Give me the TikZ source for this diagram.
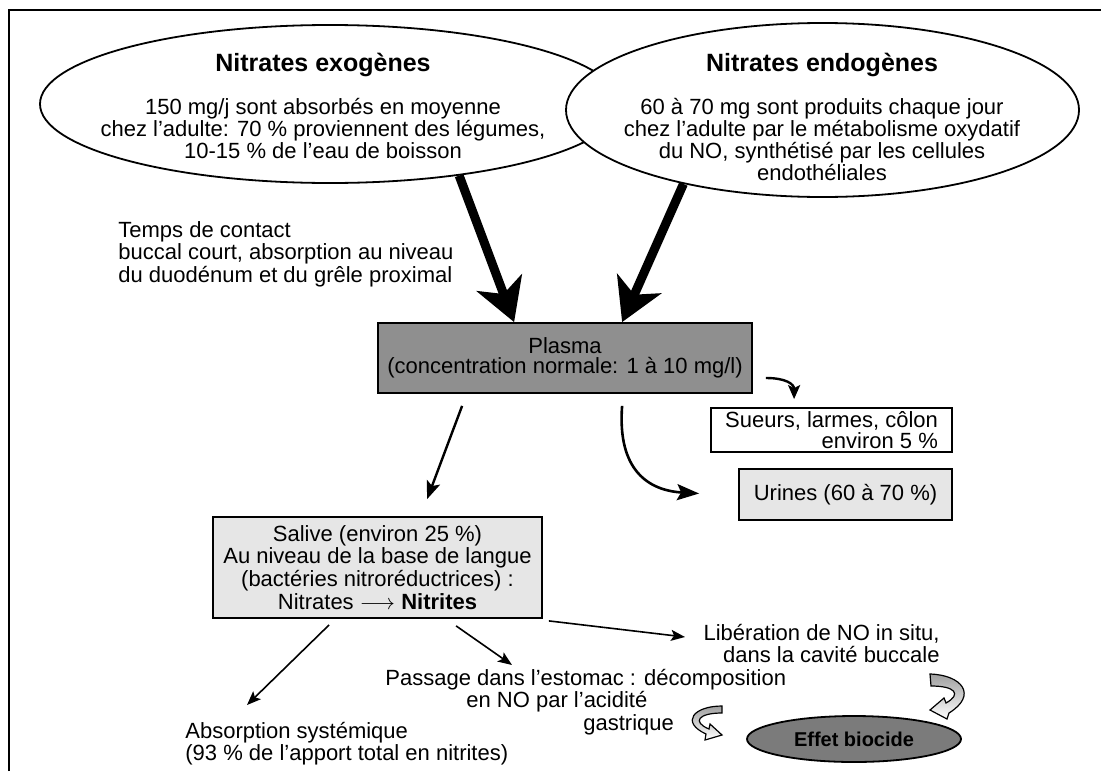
\documentclass[tikz,border=0pt]{standalone}
\usepackage{fontspec}
\setmainfont{Liberation Sans}
\usetikzlibrary{arrows.meta,shapes.geometric,calc}
\definecolor{plasmagray}{HTML}{8F8F8F}
\definecolor{boxgray}{HTML}{E6E6E6}
\definecolor{biogray}{HTML}{7B7B7B}
\begin{document}
\begin{tikzpicture}[x=0.5pt,y=-0.5pt,
  txt/.style={font=\fontsize{11}{11}\selectfont, align=center, inner sep=0pt},
  lbl/.style={font=\fontsize{11}{9.5}\selectfont, inner sep=0pt},
  bigell/.style={draw, ellipse, line width=0.9pt, fill=white, inner sep=0pt},
  boxn/.style={draw, line width=0.9pt, inner sep=0pt, align=center, font=\fontsize{11}{11}\selectfont},
  big/.style={line width=4.5pt, -{Stealth[length=21pt,width=24pt,inset=6pt]}},
  thin/.style={line width=0.8pt, -{Stealth[length=7pt,width=5.5pt,inset=1.5pt]}},
  mid/.style={line width=1.2pt, -{Stealth[length=9pt,width=7pt,inset=2pt]}},
  curvy/.style={line width=1.2pt, -{Stealth[length=7pt,width=6pt,inset=1.5pt]}},
  curvybig/.style={line width=1.3pt, -{Stealth[length=11pt,width=8pt,inset=2pt]}},
  blockarrow/.style={draw, line width=0.6pt, top color=gray!75, bottom color=white},
]
\useasboundingbox (0,0) rectangle (1101,771);
\draw[line width=0.8pt] (9,771) -- (9,10) -- (1101,10);

% ellipses
\node[bigell, minimum width=290pt, minimum height=79pt] (exo) at (330,104) {};
\node[bigell, minimum width=256.5pt, minimum height=87pt] (endo) at (822.5,110) {};

\node[txt] (exot) at (323,106) {{\fontsize{12.5}{12.5}\selectfont\bfseries Nitrates exogènes}\\[10.5pt]
150 mg/j sont absorbés en moyenne\\ chez l'adulte: 70 \% proviennent des légumes,\\ 10-15 \% de l'eau de boisson};
\node[txt] (endot) at (822,117) {{\fontsize{12.5}{12.5}\selectfont\bfseries Nitrates endogènes}\\[10.5pt]
60 à 70 mg sont produits chaque jour\\ chez l'adulte par le métabolisme oxydatif\\ du NO, synthétisé par les cellules\\ endothéliales};

% boxes
\node[boxn, fill=plasmagray, minimum width=187pt, minimum height=35pt] (plasma) at (565,358)
  {Plasma\\[-1pt](concentration normale: 1 à 10 mg/l)};
\node[boxn, fill=white, minimum width=120.5pt, minimum height=22pt, align=right,
  font=\fontsize{11}{9}\selectfont] (sueurs) at (831.5,430) {Sueurs, larmes, côlon\\ environ 5 \%};
\node[boxn, fill=boxgray, minimum width=106.5pt, minimum height=25.5pt] (urines) at (845.5,494.5)
  {Urines (60 à 70 \%)};
\node[boxn, fill=boxgray, minimum width=164.5pt, minimum height=50.5pt,
  font=\fontsize{11}{11.4}\selectfont] (salive) at (377.5,567.5)
  {Salive (environ 25 \%)\\ Au niveau de la base de langue\\ (bactéries nitroréductrices) :\\
   Nitrates $\longrightarrow$ \textbf{Nitrites}};
\node[draw, ellipse, fill=biogray, minimum width=107pt, minimum height=23pt, inner sep=0pt,
  line width=0.9pt, font=\fontsize{10}{10}\selectfont\bfseries] (biocide) at (854,739) {Effet biocide};

% labels
\node[lbl, align=left, anchor=west] (temps) at (118,254)
  {Temps de contact\\ buccal court, absorption au niveau\\ du duodénum et du grêle proximal};
\node[lbl, align=left, anchor=west] (absn) at (185,743.5)
  {Absorption systémique\\ (93 \% de l'apport total en nitrites)};
\node[lbl, align=left, anchor=west] (passage) at (385,702)
  {Passage dans l'estomac : décomposition\\ \hspace*{40.5pt}en NO par l'acidité\\ \hspace*{99pt}gastrique};
\node[lbl, align=right, anchor=east] (lib) at (940,643.5)
  {Libération de NO in situ,\\ dans la cavité buccale};

% connectors
\draw[big] (exo.-29) -- ($(plasma.north west)+(137,0)$);
\draw[big] (endo.-152.5) -- ($(plasma.north west)+(245,0)$);
\draw[mid] ($(plasma.south west)+(85,12)$) -- ($(salive.north west)+(215,-17)$);
\draw[curvy] ($(plasma.east)+(13,20)$) .. controls +(20,0) and +(0,-15) .. ($(sueurs.north west)+(84,-8)$);
\draw[curvybig] ($(plasma.south west)+(245,12)$) .. controls +(-5,65) and +(-50,-3) .. ($(urines.west)+(-39,-1)$);
\draw[thin] ($(salive.south west)+(117,6)$) -- ($(absn.west)+(62,-38.5)$);
\draw[thin] ($(salive.south west)+(244,7)$) -- ($(passage.west)+(127,-37)$);
\draw[thin] ($(salive.south east)+(6,2)$) -- ($(lib.east)+(-255,-6.5)$);

% curved block arrows
\path[blockarrow] (930,674) .. controls (962,675) and (978,695) .. (949,713) -- (947,719) -- (930,710)
  -- (944,698) -- (946,703) .. controls (962,694) and (955,686) .. (931,686) -- cycle;
\path[blockarrow] (722,706) .. controls (694,706) and (680,722) .. (706,734) -- (705,740) -- (722,735)
  -- (710,724) -- (709,729) .. controls (692,722) and (698,713) .. (722,713) -- cycle;
\end{tikzpicture}
\end{document}
